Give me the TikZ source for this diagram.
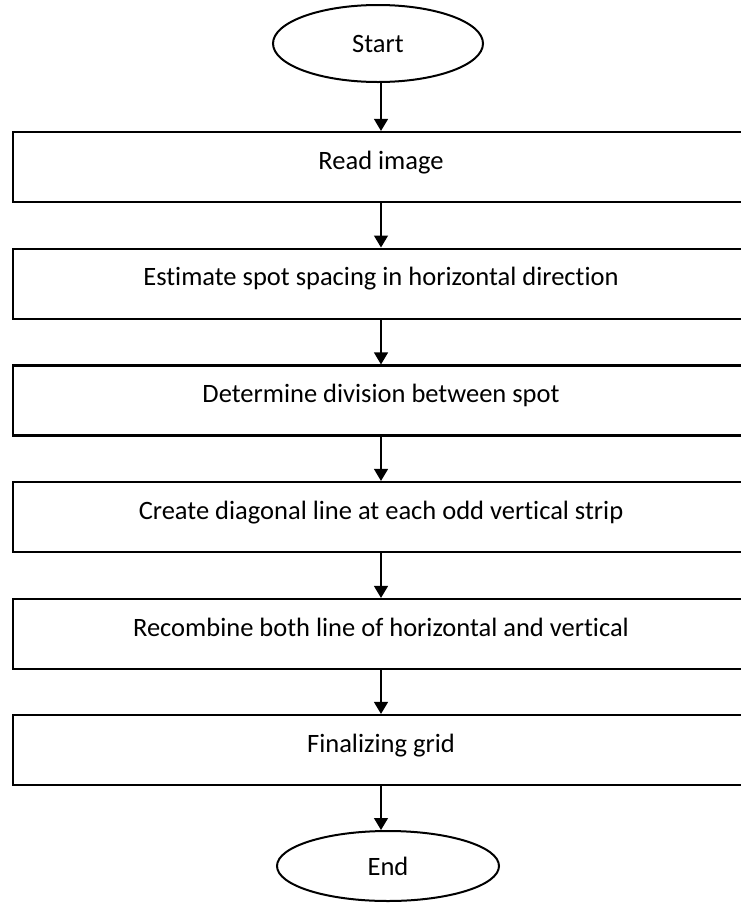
\documentclass[tikz,border=0pt]{standalone}
\usepackage{fontspec}
\setmainfont{Carlito}[Ligatures=NoCommon]
\usetikzlibrary{arrows.meta,shapes.geometric}
\tikzset{
  procbox/.style={draw, line width=2.2pt, minimum width=736pt, minimum height=70pt,
    inner sep=0pt, text height=13pt, text depth=9pt},
  terminal/.style={draw, ellipse, line width=2pt, inner sep=0pt,
    minimum width=210pt, minimum height=77pt},
  arr/.style={-{Triangle[length=12pt,width=14pt]}, line width=1.2pt}
}
\begin{document}
\begin{tikzpicture}[x=1pt,y=-1pt,font=\fontsize{26.5}{30}\selectfont]
\fill[white] (0,0) rectangle (741,903);
\clip (0,0) rectangle (741,903);
\node[terminal] (start) at (378,43.5) {Start};
\node[procbox] (b1) at (381,167) {Read image};
\node[procbox] (b2) at (381,283.6) {Estimate spot spacing in horizontal direction};
\node[procbox] (b3) at (381,400.5) {Determine division between spot};
\node[procbox] (b4) at (381,517) {Create diagonal line at each odd vertical strip};
\node[procbox] (b5) at (381,634) {Recombine both line of horizontal and vertical};
\node[procbox] (b6) at (381,750) {Finalizing grid};
\node[terminal, minimum width=222pt, minimum height=70pt] (end) at (388,866) {End};
\draw[arr] (b1.north |- start.south) -- (b1.north);
\draw[arr] (b1.south) -- (b2.north);
\draw[arr] (b2.south) -- (b3.north);
\draw[arr] (b3.south) -- (b4.north);
\draw[arr] (b4.south) -- (b5.north);
\draw[arr] (b5.south) -- (b6.north);
\draw[arr] (b6.south) -- (b6.south |- end.north);
\end{tikzpicture}
\end{document}
